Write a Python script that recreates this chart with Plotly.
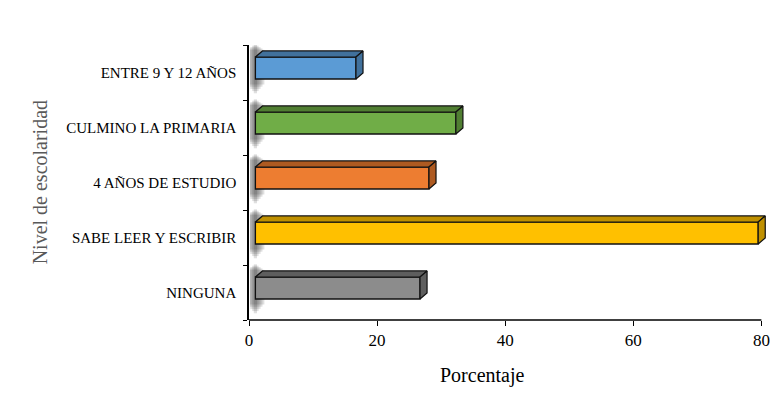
import plotly.graph_objects as go

categories = ["NINGUNA", "SABE LEER Y ESCRIBIR", "4 AÑOS DE ESTUDIO",
              "CULMINO LA PRIMARIA", "ENTRE 9 Y 12 AÑOS"]
values = [26.7, 79.5, 28.1, 32.3, 16.7]
front_colors = ["#8C8C8C", "#FFC000", "#ED7D31", "#70AD47", "#5B9BD5"]
dark_colors = ["#5E5E5E", "#BF9000", "#AE5A21", "#507E32", "#41719C"]
x_ticks = [0, 20, 40, 60, 80]

FONT = "Liberation Serif"
BAR_W = 0.4
BAR_OFF = -0.118
BASE = 1.0    # front face starts slightly in front of the back wall
DX = 1.1      # depth in x units
DY = 0.11     # depth in category units

PAGE = 8      # default body margin of the html page
W, H = 784 - PAGE, 397 - PAGE
L, T = 249 - PAGE, 45 - PAGE
PX_PER_UNIT = 6.4
RIGHT_EDGE = 770.6 - PAGE
BOTTOM_EDGE = 320 - PAGE
R, B = W - RIGHT_EDGE, H - BOTTOM_EDGE
PW = RIGHT_EDGE - L
PH = BOTTOM_EDGE - T

fig = go.Figure()

pos = list(range(len(categories)))

# soft shadows at the left end of each bar
for i in pos:
    b = i + BAR_OFF
    t = b + BAR_W
    for k, w in enumerate([0.25, 0.5, 0.8, 1.1, 1.4]):
        fig.add_shape(type="rect", xref="x", yref="y",
                      x0=max(0.15, BASE - w), x1=BASE + w,
                      y0=b - 0.26 + 0.04 * k, y1=t + DY + 0.12 - 0.025 * k,
                      fillcolor="rgb(25,25,25)", opacity=0.14,
                      line_width=0, layer="below")

# front faces
fig.add_trace(go.Bar(
    y=pos, x=[v - BASE for v in values], base=BASE, orientation="h",
    width=BAR_W, offset=BAR_OFF,
    marker=dict(color=front_colors, line=dict(color="#111111", width=1.3)),
    showlegend=False, hoverinfo="skip"))

# top and side faces
for i, v in enumerate(values):
    b = i + BAR_OFF
    t = b + BAR_W
    fig.add_trace(go.Scatter(
        x=[BASE, v, v + DX, BASE + DX, BASE], y=[t, t, t + DY, t + DY, t],
        fill="toself", fillcolor=dark_colors[i], mode="lines",
        line=dict(color="#111111", width=1.2), showlegend=False,
        hoverinfo="skip"))
    fig.add_trace(go.Scatter(
        x=[v, v + DX, v + DX, v, v], y=[b, b + DY, t + DY, t, b],
        fill="toself", fillcolor=dark_colors[i], mode="lines",
        line=dict(color="#111111", width=1.2), showlegend=False,
        hoverinfo="skip"))

# x axis line only up to 80
fig.add_shape(type="line", xref="x", yref="paper", x0=0, x1=x_ticks[-1],
              y0=0, y1=0, line=dict(color="#000000", width=1.5))

fig.update_layout(
    width=W, height=H,
    margin=dict(l=L, r=R, t=T, b=B, autoexpand=False),
    paper_bgcolor="white", plot_bgcolor="white",
    font=dict(family=FONT, color="#000000"),
    xaxis=dict(range=[0, PW / PX_PER_UNIT], tickvals=x_ticks,
               ticktext=[str(t) for t in x_ticks], automargin=False,
               ticks="outside", ticklen=5, tickcolor="#000000",
               showline=False, showgrid=False, zeroline=False,
               tickfont=dict(size=17, family=FONT)),
    yaxis=dict(range=[-0.5, 4.5], tickvals=pos, ticktext=categories,
               automargin=False,
               ticks="", showline=True, linecolor="#000000", linewidth=1.5,
               showgrid=False, zeroline=False,
               ticklabelstandoff=8,
               tickfont=dict(size=15, family=FONT),
               minor=dict(tickvals=[p - 0.5 for p in pos] + [pos[-1] + 0.5],
                          ticks="outside", ticklen=4, tickcolor="#000000",
                          showgrid=False)),
    annotations=[
        dict(text="Nivel de escolaridad", xref="paper", yref="paper",
             x=(40 - PAGE - L) / PW, y=0.5, xanchor="center",
             yanchor="middle", textangle=-90, showarrow=False,
             font=dict(size=20, family=FONT, color="#595959")),
        dict(text="Porcentaje", xref="paper", yref="paper",
             x=(482 - PAGE - L) / PW, y=-(375 - PAGE - BOTTOM_EDGE) / PH,
             xanchor="center", yanchor="middle", showarrow=False,
             font=dict(size=20, family=FONT, color="#000000")),
    ],
)

fig.write_html("out.html")
